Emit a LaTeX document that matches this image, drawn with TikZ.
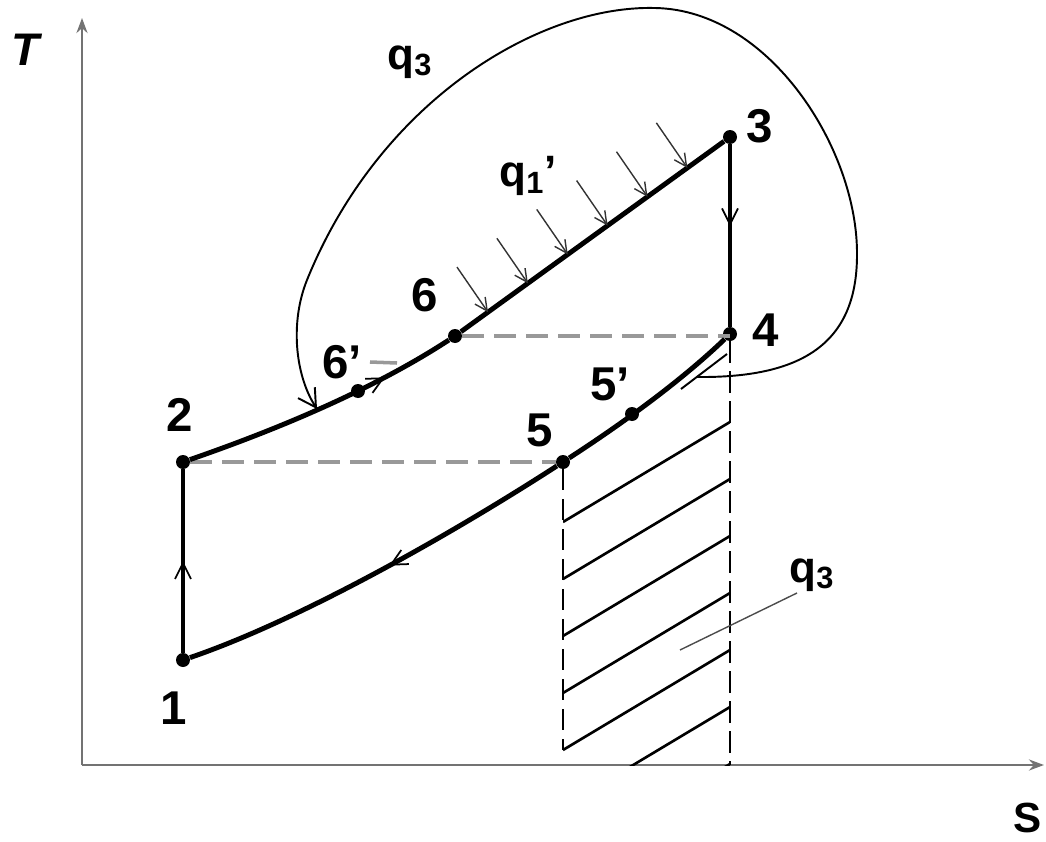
\documentclass[tikz,border=0pt]{standalone}
\usepackage{fontspec}
\setmainfont{Liberation Sans}
\usetikzlibrary{arrows.meta, decorations.markings, calc}

\tikzset{
  state/.style={circle, fill=black, inner sep=0pt, minimum size=0.28cm},
  numlabel/.style={font=\fontsize{27}{30}\selectfont\bfseries},
  qlabel/.style={font=\fontsize{25}{28}\selectfont\bfseries},
  axis/.style={line width=1.7pt, black!55},
  cycleline/.style={line width=2.8pt},
  thinline/.style={line width=1.1pt},
  hatchline/.style={line width=1.5pt},
  heatarrow/.style={line width=0.8pt, black!80, -{Straight Barb[length=0.25cm,width=0.25cm]}},
  guide/.style={line width=2.6pt, black!40, dash pattern=on 0.44cm off 0.2cm},
  dropline/.style={line width=1.7pt, dash pattern=on 0.42cm off 0.18cm},
  midarrow/.style={postaction={decorate}, decoration={markings,
    mark=at position #1 with {\arrow[line width=1pt]{Straight Barb[length=0.32cm,width=0.32cm]}}}}
}

\begin{document}
\begin{tikzpicture}[x=0.02cm,y=-0.02cm]
\useasboundingbox (0,0) rectangle (1046,842);

% axes
\coordinate (origin) at (82,765);
\coordinate (ytop) at (82,18);
\coordinate (xend) at (1044,765);
\draw[axis,-{Stealth[length=0.3cm,width=0.22cm]}] (origin) -- (ytop);
\draw[axis,-{Stealth[length=0.3cm,width=0.22cm]}] (origin) -- (xend);
\node[font=\fontsize{26}{28}\selectfont\bfseries\itshape] (lT) at (25,50) {T};
\node[font=\fontsize{24}{26}\selectfont\bfseries] (lS) at (1028,818) {S};

% cycle states
\node[state] (p1) at (183,660) {};
\node[state] (p2) at (183,462) {};
\node[state] (p3) at (730,137) {};
\node[state] (p4) at (730,334) {};
\node[state] (p5) at (563,462) {};
\node[state] (p6) at (455,336) {};
\node[state] (p6s) at (358,391) {};
\node[state] (p5s) at (632,414) {};

\node[numlabel] (l1) at (174,708) {1};
\node[numlabel] (l2) at (180,415) {2};
\node[numlabel] (l3) at (760,126) {3};
\node[numlabel] (l4) at (766,330) {4};
\node[numlabel] (l5) at (540,430) {5};
\node[numlabel] (l6) at (425,295) {6};
\node[numlabel] (l6s) at (342,362) {6'};
\node[numlabel] (l5s) at (610,384) {5'};

% hatched area under 5-4
\begin{scope}
  \clip (563,400) rectangle (730,765);
  \foreach \y in {522,579,...,864}
    \draw[hatchline] (563,\y) -- (730,\y-100);
\end{scope}
\draw[dropline] (p5) -- (563,750);
\draw[line width=1.2pt, dash pattern=on 0.44cm off 0.16cm] (p4) -- (p4 |- origin);

% dashed guides
\draw[guide] (p2) -- (p5);
\draw[guide] (p6) -- (p6 -| p4);

% cycle
\draw[cycleline, midarrow=0.5] (p1) -- (p2);
\draw[cycleline, midarrow=0.74] (p2) .. controls (290,425) and (380,385) .. (p6);
\draw[cycleline] (p6) -- (p3);
\draw[cycleline, midarrow=0.45] (p3) -- (p4);
\draw[cycleline] (p4) .. controls (680,382) and (620,425) .. (p5);
\draw[cycleline, midarrow=0.47] (p5) .. controls (450,535) and (300,620) .. (p1);

% heat supplied along 6-3
\foreach \t in {0.12,0.265,0.41,0.555,0.70,0.845}
  \draw[heatarrow] ($(p6)!\t!(p3) + (-31,-45)$) -- ($(p6)!\t!(p3)$);
\node[qlabel] (lq1) at (528,176) {q\textsubscript{1}'};

% regeneration loop
\coordinate (loopstart) at (697,377);
\coordinate (loopend) at (317,409);
\draw[thinline, -{Straight Barb[length=0.35cm,width=0.4cm]}] (loopstart)
  .. controls (800,378) and (857,345) .. (857,255)
  .. controls (858,150) and (770,10) .. (655,8)
  .. controls (540,5) and (380,100) .. (307,280)
  .. controls (290,322) and (295,375) .. (loopend);
\draw[thinline] (681,389) -- (727,354);
\draw[line width=2pt, black!40] (370,362) -- (397,363);
\node[qlabel] (lqtop) at (410,62) {q\textsubscript{3}};

% label of hatched area
\node[qlabel] (lqbot) at (812,575) {q\textsubscript{3}};
\coordinate (leadend) at (680,650);
\draw[line width=0.8pt, black!70] (797,593) -- (leadend);
\end{tikzpicture}
\end{document}
